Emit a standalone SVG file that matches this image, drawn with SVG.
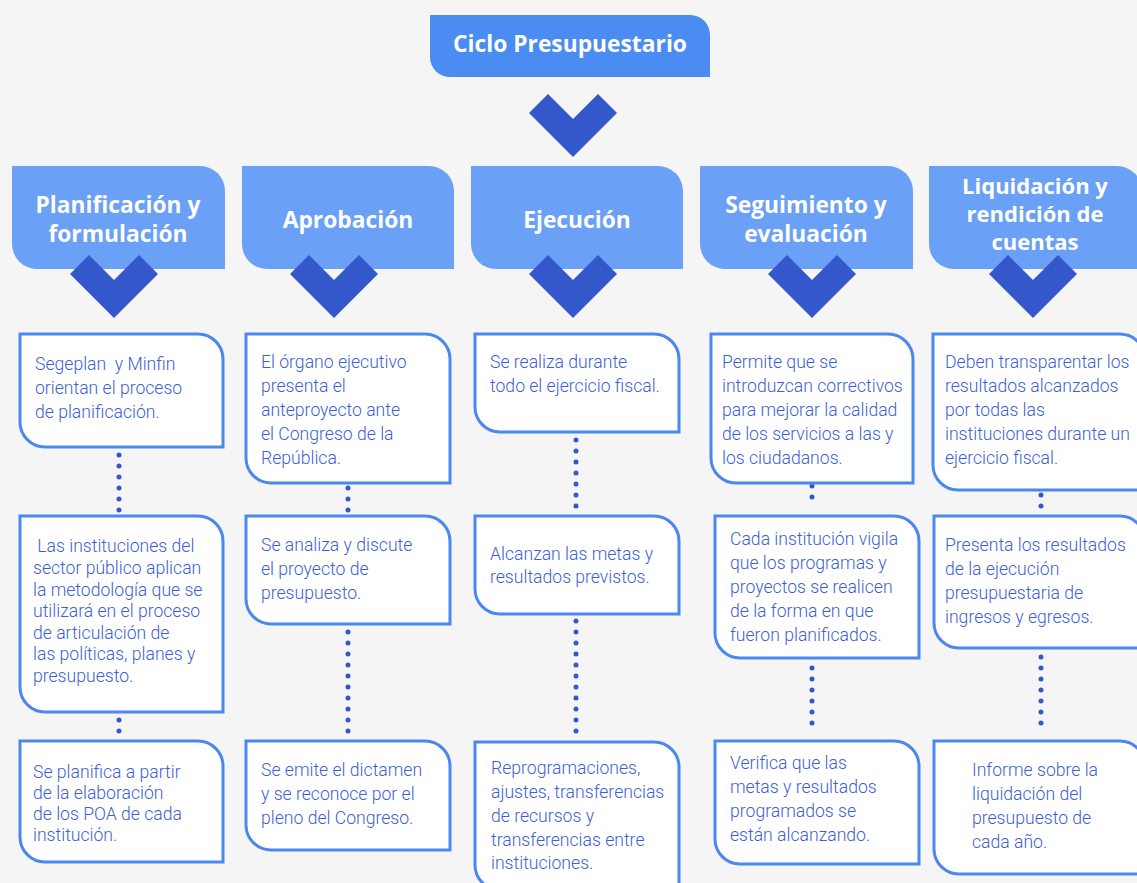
<svg xmlns="http://www.w3.org/2000/svg" width="1137" height="883" viewBox="0 0 1137 883">
<style>
.bg{fill:#f5f5f5}
.title{fill:#4a8cf2}
.hdr{fill:#6aa0f5}
.chev{fill:#3557cc}
.box{fill:#ffffff;stroke:#4a88ee;stroke-width:3}
.ht{font-family:"Open Sans",Roboto,"Liberation Sans",sans-serif;font-weight:700;font-size:22.8px;fill:#ffffff;text-anchor:middle}
.hs{font-size:22px}
.tt{font-family:"Open Sans",Roboto,"Liberation Sans",sans-serif;font-weight:700;font-size:22.8px;fill:#ffffff;text-anchor:middle}
.bt{font-family:Roboto,"Liberation Sans",sans-serif;font-weight:300;font-size:17.6px;fill:#3d60d6}
.dots{stroke:#3557cc;stroke-width:5;stroke-linecap:round;stroke-dasharray:0 11;fill:none}
</style>
<defs>
<path id="chv" d="M-44,19 L-25,0 L0,25 L25,0 L44,19 L0,63 Z"/>
</defs>
<rect class="bg" x="0" y="0" width="1137" height="883"/>

<g id="title">
<path class="title" d="M430,15 H690 A20,20 0 0 1 710,35 V77 H450 A20,20 0 0 1 430,57 Z"/>
<text class="tt" x="570" y="52">Ciclo Presupuestario</text>
<use href="#chv" class="chev" x="573" y="94"/>
</g>

<g id="h1">
<path class="hdr" d="M12,166 H200 A25,25 0 0 1 225,191 V269 H37 A25,25 0 0 1 12,244 Z"/>
<text class="ht" x="118" y="213">Planificación y</text>
<text class="ht" x="118" y="242">formulación</text>
<use href="#chv" class="chev" x="114" y="255"/>
</g>
<g id="h2">
<path class="hdr" d="M242,166 H429 A25,25 0 0 1 454,191 V269 H267 A25,25 0 0 1 242,244 Z"/>
<text class="ht" x="348" y="228">Aprobación</text>
<use href="#chv" class="chev" x="334" y="255"/>
</g>
<g id="h3">
<path class="hdr" d="M471,166 H658 A25,25 0 0 1 683,191 V269 H496 A25,25 0 0 1 471,244 Z"/>
<text class="ht" x="577" y="228">Ejecución</text>
<use href="#chv" class="chev" x="573" y="255"/>
</g>
<g id="h4">
<path class="hdr" d="M700,166 H888 A25,25 0 0 1 913,191 V269 H725 A25,25 0 0 1 700,244 Z"/>
<text class="ht" x="806" y="213">Seguimiento y</text>
<text class="ht" x="806" y="242">evaluación</text>
<use href="#chv" class="chev" x="812" y="255"/>
</g>
<g id="h5">
<path class="hdr" d="M929,166 H1117 A25,25 0 0 1 1142,191 V269 H954 A25,25 0 0 1 929,244 Z"/>
<text class="ht hs" x="1035" y="194">Liquidación y</text>
<text class="ht hs" x="1035" y="222">rendición de</text>
<text class="ht hs" x="1035" y="250">cuentas</text>
<use href="#chv" class="chev" x="1033" y="255"/>
</g>

<g id="connectors">
<line class="dots" x1="119" y1="455" x2="119" y2="511"/>
<line class="dots" x1="119" y1="720" x2="119" y2="732"/>
<line class="dots" x1="348" y1="488" x2="348" y2="511"/>
<line class="dots" x1="348" y1="632" x2="348" y2="734"/>
<line class="dots" x1="576" y1="440" x2="576" y2="507"/>
<line class="dots" x1="576" y1="621" x2="576" y2="734"/>
<line class="dots" x1="812" y1="486" x2="812" y2="508"/>
<line class="dots" x1="812" y1="668" x2="812" y2="734"/>
<line class="dots" x1="1041" y1="495" x2="1041" y2="507"/>
<line class="dots" x1="1041" y1="657" x2="1041" y2="734"/>
</g>

<g id="b11">
<path class="box" d="M20,334 H198 A25,25 0 0 1 223,359 V447 H45 A25,25 0 0 1 20,422 Z"/>
<text class="bt" x="35" y="370" xml:space="preserve">Segeplan  y Minfin</text>
<text class="bt" x="35" y="394">orientan el proceso</text>
<text class="bt" x="35" y="418">de planificación.</text>
</g>
<g id="b12">
<path class="box" d="M20,516 H198 A25,25 0 0 1 223,541 V712 H45 A25,25 0 0 1 20,687 Z"/>
<text class="bt" x="33" y="552" xml:space="preserve"> Las instituciones del</text>
<text class="bt" x="33" y="574">sector público aplican</text>
<text class="bt" x="33" y="596">la metodología que se</text>
<text class="bt" x="33" y="617">utilizará en el proceso</text>
<text class="bt" x="33" y="639">de articulación de</text>
<text class="bt" x="33" y="660">las políticas, planes y</text>
<text class="bt" x="33" y="682">presupuesto.</text>
</g>
<g id="b13">
<path class="box" d="M20,741 H198 A25,25 0 0 1 223,766 V862 H45 A25,25 0 0 1 20,837 Z"/>
<text class="bt" x="33" y="778">Se planifica a partir</text>
<text class="bt" x="33" y="799">de la elaboración</text>
<text class="bt" x="33" y="820">de los POA de cada</text>
<text class="bt" x="33" y="841">institución.</text>
</g>

<g id="b21">
<path class="box" d="M246,334 H425 A25,25 0 0 1 450,359 V483 H271 A25,25 0 0 1 246,458 Z"/>
<text class="bt" x="261" y="368">El órgano ejecutivo</text>
<text class="bt" x="261" y="392">presenta el</text>
<text class="bt" x="261" y="416">anteproyecto ante</text>
<text class="bt" x="261" y="440">el Congreso de la</text>
<text class="bt" x="261" y="464">República.</text>
</g>
<g id="b22">
<path class="box" d="M246,516 H425 A25,25 0 0 1 450,541 V624 H271 A25,25 0 0 1 246,599 Z"/>
<text class="bt" x="261" y="551">Se analiza y discute</text>
<text class="bt" x="261" y="575">el proyecto de</text>
<text class="bt" x="261" y="599">presupuesto.</text>
</g>
<g id="b23">
<path class="box" d="M246,741 H425 A25,25 0 0 1 450,766 V850 H271 A25,25 0 0 1 246,825 Z"/>
<text class="bt" x="261" y="776">Se emite el dictamen</text>
<text class="bt" x="261" y="800">y se reconoce por el</text>
<text class="bt" x="261" y="824">pleno del Congreso.</text>
</g>

<g id="b31">
<path class="box" d="M475,334 H654 A25,25 0 0 1 679,359 V432 H500 A25,25 0 0 1 475,407 Z"/>
<text class="bt" x="490" y="368">Se realiza durante</text>
<text class="bt" x="490" y="392">todo el ejercicio fiscal.</text>
</g>
<g id="b32">
<path class="box" d="M475,516 H654 A25,25 0 0 1 679,541 V614 H500 A25,25 0 0 1 475,589 Z"/>
<text class="bt" x="490" y="560">Alcanzan las metas y</text>
<text class="bt" x="490" y="583">resultados previstos.</text>
</g>
<g id="b33">
<path class="box" d="M475,742 H654 A25,25 0 0 1 679,767 V890 H500 A25,25 0 0 1 475,865 Z"/>
<text class="bt" x="491" y="774">Reprogramaciones,</text>
<text class="bt" x="491" y="798">ajustes, transferencias</text>
<text class="bt" x="491" y="822">de recursos y</text>
<text class="bt" x="491" y="846">transferencias entre</text>
<text class="bt" x="491" y="869">instituciones.</text>
</g>

<g id="b41">
<path class="box" d="M711,334 H888 A25,25 0 0 1 913,359 V483 H736 A25,25 0 0 1 711,458 Z"/>
<text class="bt" x="722" y="368">Permite que se</text>
<text class="bt" x="722" y="392">introduzcan correctivos</text>
<text class="bt" x="722" y="416">para mejorar la calidad</text>
<text class="bt" x="722" y="440">de los servicios a las y</text>
<text class="bt" x="722" y="464">los ciudadanos.</text>
</g>
<g id="b42">
<path class="box" d="M715,516 H894 A25,25 0 0 1 919,541 V658 H740 A25,25 0 0 1 715,633 Z"/>
<text class="bt" x="730" y="545">Cada institución vigila</text>
<text class="bt" x="730" y="569">que los programas y</text>
<text class="bt" x="730" y="593">proyectos se realicen</text>
<text class="bt" x="730" y="617">de la forma en que</text>
<text class="bt" x="730" y="641">fueron planificados.</text>
</g>
<g id="b43">
<path class="box" d="M715,741 H894 A25,25 0 0 1 919,766 V864 H740 A25,25 0 0 1 715,839 Z"/>
<text class="bt" x="730" y="769">Verifica que las</text>
<text class="bt" x="730" y="793">metas y resultados</text>
<text class="bt" x="730" y="817">programados se</text>
<text class="bt" x="730" y="841">están alcanzando.</text>
</g>

<g id="b51">
<path class="box" d="M933,334 H1120 A25,25 0 0 1 1145,359 V490 H958 A25,25 0 0 1 933,465 Z"/>
<text class="bt" x="945" y="368">Deben transparentar los</text>
<text class="bt" x="945" y="392">resultados alcanzados</text>
<text class="bt" x="945" y="416">por todas las</text>
<text class="bt" x="945" y="440">instituciones durante un</text>
<text class="bt" x="945" y="464">ejercicio fiscal.</text>
</g>
<g id="b52">
<path class="box" d="M934,516 H1120 A25,25 0 0 1 1145,541 V648 H959 A25,25 0 0 1 934,623 Z"/>
<text class="bt" x="945" y="551">Presenta los resultados</text>
<text class="bt" x="945" y="575">de la ejecución</text>
<text class="bt" x="945" y="599">presupuestaria de</text>
<text class="bt" x="945" y="623">ingresos y egresos.</text>
</g>
<g id="b53">
<path class="box" d="M934,741 H1120 A25,25 0 0 1 1145,766 V874 H959 A25,25 0 0 1 934,849 Z"/>
<text class="bt" x="972" y="776">Informe sobre la</text>
<text class="bt" x="972" y="800">liquidación del</text>
<text class="bt" x="972" y="824">presupuesto de</text>
<text class="bt" x="972" y="848">cada año.</text>
</g>
</svg>
